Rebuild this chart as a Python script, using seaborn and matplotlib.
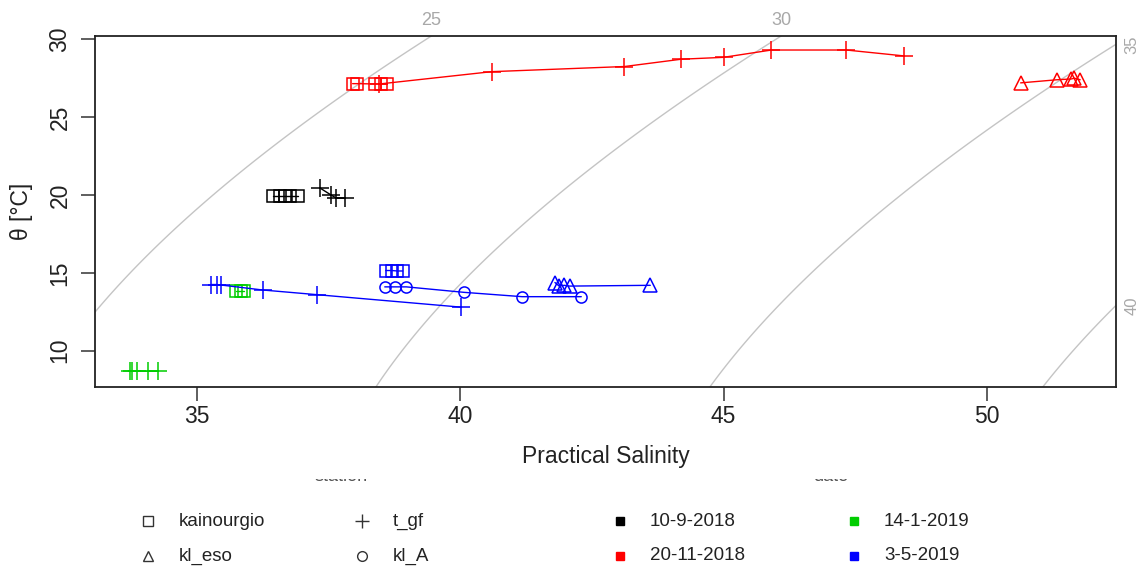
import numpy as np
import pandas as pd
import matplotlib
matplotlib.use("Agg")
import matplotlib.pyplot as plt
from matplotlib.lines import Line2D
from matplotlib.patches import Rectangle
import seaborn as sns

# ---- survey dates and stations ------------------------------------------
dates = ["10-9-2018", "20-11-2018", "14-1-2019", "3-5-2019"]
date_colors = ["#000000", "#FF0000", "#00CD00", "#0000FF"]
stations = ["kainourgio", "kl_eso", "t_gf", "kl_A"]
station_markers = ["s", "^", "+", "o"]

# ---- practical salinity / potential temperature profiles -------------------
# 10-9-2018
sal_sep18_kainourgio = [36.45, 36.58, 36.68, 36.78, 36.92]
theta_sep18_kainourgio = [19.95, 19.95, 19.95, 19.95, 19.95]
sal_sep18_tgf = [37.34, 37.55, 37.65, 37.82]
theta_sep18_tgf = [20.45, 20.00, 19.80, 19.80]

# 20-11-2018
sal_nov18_kainourgio = [37.96, 38.05, 38.38, 38.49, 38.62]
theta_nov18_kainourgio = [27.15, 27.15, 27.13, 27.13, 27.12]
sal_nov18_tgf = [38.47, 40.60, 43.12, 44.20, 45.00, 45.91, 47.33, 48.43]
theta_nov18_tgf = [27.13, 27.92, 28.25, 28.72, 28.84, 29.31, 29.31, 28.93]
sal_nov18_kleso = [50.64, 51.33, 51.60, 51.66, 51.77]
theta_nov18_kleso = [27.20, 27.40, 27.45, 27.50, 27.40]

# 14-1-2019
sal_jan19_kainourgio = [35.75, 35.85, 35.90]
theta_jan19_kainourgio = [13.85, 13.85, 13.85]
sal_jan19_tgf = [33.74, 33.78, 33.86, 34.07, 34.26]
theta_jan19_tgf = [8.68, 8.70, 8.70, 8.68, 8.68]

# 3-5-2019
sal_may19_kainourgio = [38.59, 38.70, 38.81, 38.91]
theta_may19_kainourgio = [15.15, 15.15, 15.12, 15.12]
sal_may19_tgf = [35.28, 35.38, 35.46, 36.25, 37.28, 40.01]
theta_may19_tgf = [14.25, 14.25, 14.22, 13.90, 13.60, 12.80]
sal_may19_kla = [38.57, 38.77, 38.98, 40.07, 41.18, 42.30]
theta_may19_kla = [14.10, 14.10, 14.10, 13.75, 13.47, 13.47]
sal_may19_kleso = [41.80, 41.88, 41.98, 42.08, 43.61]
theta_may19_kleso = [14.38, 14.15, 14.20, 14.15, 14.20]

# isopycnals drawn in the background (sigma-theta, kg/m3 - 1000)
sigma_levels = [25, 30, 35, 40]

casts = [
    ("10-9-2018", "kainourgio", sal_sep18_kainourgio, theta_sep18_kainourgio),
    ("10-9-2018", "t_gf", sal_sep18_tgf, theta_sep18_tgf),
    ("20-11-2018", "kainourgio", sal_nov18_kainourgio, theta_nov18_kainourgio),
    ("20-11-2018", "t_gf", sal_nov18_tgf, theta_nov18_tgf),
    ("20-11-2018", "kl_eso", sal_nov18_kleso, theta_nov18_kleso),
    ("14-1-2019", "kainourgio", sal_jan19_kainourgio, theta_jan19_kainourgio),
    ("14-1-2019", "t_gf", sal_jan19_tgf, theta_jan19_tgf),
    ("3-5-2019", "kainourgio", sal_may19_kainourgio, theta_may19_kainourgio),
    ("3-5-2019", "t_gf", sal_may19_tgf, theta_may19_tgf),
    ("3-5-2019", "kl_A", sal_may19_kla, theta_may19_kla),
    ("3-5-2019", "kl_eso", sal_may19_kleso, theta_may19_kleso),
]

rows = []
for date, station, sal, theta in casts:
    for s, t in zip(sal, theta):
        rows.append({"date": date, "station": station, "salinity": s, "theta": t})
df = pd.DataFrame(rows)


def sigma_theta(S, T):
    """UNESCO (1980) surface density anomaly."""
    rho_w = (999.842594 + 6.793952e-2 * T - 9.095290e-3 * T**2
             + 1.001685e-4 * T**3 - 1.120083e-6 * T**4 + 6.536332e-9 * T**5)
    A = (0.824493 - 4.0899e-3 * T + 7.6438e-5 * T**2
         - 8.2467e-7 * T**3 + 5.3875e-9 * T**4)
    B = -5.72466e-3 + 1.0227e-4 * T - 1.6546e-6 * T**2
    C = 4.8314e-4
    return rho_w + A * S + B * S**1.5 + C * S**2 - 1000.0


# ---- figure -----------------------------------------------------------------
sns.set_style("white")
plt.rcParams["font.family"] = ["Liberation Sans", "DejaVu Sans"]

W, H = 1138, 567
fig = plt.figure(figsize=(W / 100, H / 100), dpi=100)
ax = fig.add_axes([95 / W, 1 - 387 / H, (1116 - 95) / W, (387 - 36) / H])

xmin, xmax = 33.07, 52.45
ymin, ymax = 7.67, 30.21

# isopycnal background
s_grid = np.linspace(32.0, 54.0, 400)
t_grid = np.linspace(6.0, 32.0, 400)
SS, TT = np.meshgrid(s_grid, t_grid)
ax.contour(SS, TT, sigma_theta(SS, TT), levels=sigma_levels,
           colors="#c4c4c4", linewidths=1.0, zorder=1)

for lev in sigma_levels:
    sig_top = sigma_theta(s_grid, ymax)
    s_top = np.interp(lev, sig_top, s_grid)
    if s_top <= xmax:
        ax.annotate(f"{lev}", xy=(s_top, ymax), xytext=(0, 5),
                    textcoords="offset points", ha="center", va="bottom",
                    fontsize=13, color="#a8a8a8", annotation_clip=False)
    else:
        sig_right = sigma_theta(xmax, t_grid)
        t_right = np.interp(lev, sig_right[::-1], t_grid[::-1])
        ax.annotate(f"{lev}", xy=(xmax, t_right), xytext=(6, 0),
                    textcoords="offset points", ha="left", va="center",
                    rotation=90, fontsize=12, color="#a8a8a8",
                    annotation_clip=False)

# profiles: colour by survey date, one symbol per station
palette = dict(zip(dates, date_colors))
marker_sizes = {"s": 8, "^": 10, "+": 13, "o": 8}
for station, mk in zip(stations, station_markers):
    sub = df[df["station"] == station]
    n_before = len(ax.lines)
    sns.lineplot(data=sub, x="salinity", y="theta", hue="date",
                 hue_order=[d for d in dates if d in set(sub["date"])],
                 palette=palette, marker=mk, estimator=None, sort=False,
                 legend=False, lw=1.0, ax=ax, zorder=3)
    for ln in ax.lines[n_before:]:
        col = ln.get_color()
        ln.set_marker(mk)
        ln.set_markerfacecolor("none")
        ln.set_markeredgecolor(col)
        ln.set_markeredgewidth(1.1)
        ln.set_markersize(marker_sizes[mk])

ax.set_xlim(xmin, xmax)
ax.set_ylim(ymin, ymax)
ax.set_xticks([35, 40, 45, 50])
ax.set_yticks([10, 15, 20, 25, 30])
ax.tick_params(axis="both", direction="out", length=10, width=1.1,
               bottom=True, left=True, top=False, right=False,
               color="#333333", labelsize=16.5, labelcolor="#222222")
ax.tick_params(axis="x", pad=3)
ax.tick_params(axis="y", labelrotation=90, pad=7)
for lbl in ax.get_yticklabels():
    lbl.set_va("center")
for sp in ax.spines.values():
    sp.set_visible(True)
    sp.set_color("#222222")
    sp.set_linewidth(1.3)

ax.set_xlabel("Practical Salinity", fontsize=16.5, color="#222222", labelpad=12)
ax.set_ylabel("θ [°C]", fontsize=16.5, color="#222222")
ax.yaxis.set_label_coords((33 - 95) / (1116 - 95), 0.5)


def fx(px):
    return px / W


def fy(py):
    return 1 - py / H


# legend titles, mostly hidden behind the axis label band
fig.text(fx(341), fy(481), "station", ha="center", va="baseline",
         fontsize=13, color="#555555")
fig.text(fx(831), fy(481), "date", ha="center", va="baseline",
         fontsize=13, color="#555555")
for x0, x1 in [(290, 400), (790, 880)]:
    fig.add_artist(Rectangle((fx(x0), fy(478.5)), fx(x1) - fx(x0), fy(440) - fy(478.5),
                             transform=fig.transFigure, facecolor="white",
                             edgecolor="none", zorder=10))

row_y = [521, 556]
legend_size = 13.5

# station legend (symbols)
station_pos = [(148, row_y[0]), (148, row_y[1]), (362, row_y[0]), (362, row_y[1])]
for (x, y), name, mk in zip(station_pos, stations, station_markers):
    fig.add_artist(Line2D([fx(x)], [fy(y)], transform=fig.transFigure,
                          marker=mk, ms=7 if mk != "+" else 10, mfc="none",
                          mec="#333333", mew=1.0, ls="none"))
    fig.text(fx(x + 31), fy(y), name, ha="left", va="center",
             fontsize=legend_size, color="#222222")

# date legend (colours)
date_pos = [(620, row_y[0]), (620, row_y[1]), (854, row_y[0]), (854, row_y[1])]
for (x, y), name, col in zip(date_pos, dates, date_colors):
    fig.add_artist(Line2D([fx(x)], [fy(y)], transform=fig.transFigure,
                          marker="s", ms=6, mfc=col, mec=col, ls="none"))
    fig.text(fx(x + 30), fy(y), name, ha="left", va="center",
             fontsize=legend_size, color="#222222")

fig.savefig("out.png", dpi=100, facecolor="white")
